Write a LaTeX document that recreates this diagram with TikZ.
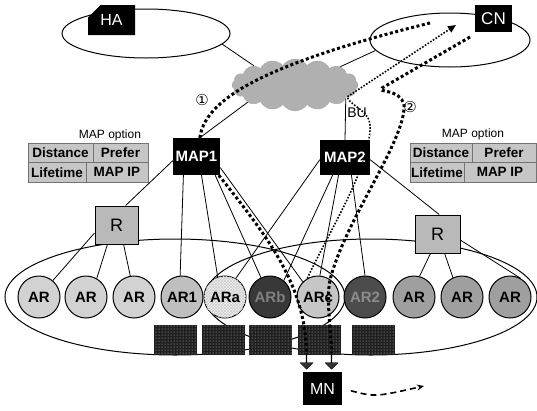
\documentclass[tikz,border=0pt]{standalone}
\usepackage{fontspec}
\setmainfont{Liberation Sans}
\newfontfamily\symf{DejaVu Sans}
\usetikzlibrary{shapes.geometric,shapes.symbols,shapes.misc,shapes.arrows,arrows.meta,backgrounds,patterns}
\begin{document}
\begin{tikzpicture}[x=1pt,y=-1pt,
  blk/.style={rectangle,fill=black,text=white,inner sep=0pt},
  arc/.style={circle,draw,line width=1pt,minimum size=42pt,inner sep=0pt,font=\fontsize{15}{15}\selectfont\bfseries},
  cellbox/.style={rectangle,fill=black!88,minimum width=43pt,minimum height=30pt,inner sep=0pt,
     postaction={pattern=dots,pattern color=white!80!black}},
  rbox/.style={rectangle,draw,line width=1pt,fill=gray!55,minimum height=38pt,inner sep=0pt,font=\fontsize{18}{18}\selectfont},
  opt/.style={rectangle,draw=black!55,fill=gray!45,minimum height=19.5pt,inner sep=0pt,font=\fontsize{13.5}{13.5}\selectfont\bfseries},
  dom/.style={ellipse,draw,line width=1pt,inner sep=0pt},
  conn/.style={line width=0.8pt},
  thickdot/.style={line width=3pt,dash pattern=on 3pt off 2.5pt},
  thindot/.style={line width=1.6pt,dash pattern=on 1.6pt off 1.6pt},
  optlabel/.style={font=\fontsize{12}{12}\selectfont},
  circnum/.style={font=\symf\fontsize{15}{15}\selectfont}
]
\useasboundingbox (0,0) rectangle (537,410);

% ---------- main nodes ----------
\node[blk,chamfered rectangle,chamfered rectangle corners=north west,chamfered rectangle xsep=7pt,chamfered rectangle ysep=7pt,
      minimum width=47pt,minimum height=30pt,font=\fontsize{16}{16}\selectfont] (HA) at (111.5,20) {HA};
\node[blk,minimum width=37pt,minimum height=27pt,font=\fontsize{17}{17}\selectfont] (CN) at (493.5,18.5) {CN};
\node[blk,minimum width=47pt,minimum height=37pt,font=\fontsize{15}{15}\selectfont\bfseries] (MAP1) at (196.5,156.5) {MAP1};
\node[blk,minimum width=50pt,minimum height=35pt,font=\fontsize{15}{15}\selectfont\bfseries] (MAP2) at (345,157.5) {MAP2};
\node[blk,minimum width=39pt,minimum height=33pt,font=\fontsize{16}{16}\selectfont] (MN) at (322.5,388.5) {MN};

\node[rbox,minimum width=43pt] (Rl) at (116.5,225) {R};
\node[rbox,minimum width=45pt] (Rr) at (437.5,234) {R};

% access routers
\node[arc,fill=gray!35] (c1) at (39,297) {AR};
\node[arc,fill=gray!35] (c2) at (86,297) {AR};
\node[arc,fill=gray!35] (c3) at (134,297) {AR};
\node[arc,fill=gray!50] (c4) at (182,297) {AR1};
\node[arc,fill=gray!12,postaction={pattern=crosshatch,pattern color=gray!40}] (c5) at (225,297) {ARa};
\node[arc,fill=black!78,text=black!50] (c6) at (270,297) {ARb};
\node[arc,fill=gray!45] (c7) at (318,297) {ARc};
\node[arc,fill=black!70,text=black!45] (c8) at (365,297) {AR2};
\node[arc,fill=gray!75] (c9) at (414,297) {AR};
\node[arc,fill=gray!75] (c10) at (462,297) {AR};
\node[arc,fill=gray!75] (c11) at (510,297) {AR};

% cells
\node[cellbox] (s1) at (175.5,340) {};
\node[cellbox] (s2) at (223.5,340) {};
\node[cellbox] (s3) at (270.5,340) {};
\node[cellbox] (s4) at (319,340) {};
\node[cellbox] (s5) at (373,340) {};

% block arrows
\node[single arrow,shape border rotate=270,fill=black!80,draw=black,minimum height=16pt,minimum width=13pt,
      single arrow head extend=3pt,inner sep=0pt] (arrL) at (306.5,361) {};
\node[single arrow,shape border rotate=270,fill=black!80,draw=black,minimum height=16pt,minimum width=13pt,
      single arrow head extend=3pt,inner sep=0pt] (arrR) at (331.5,361) {};

% MAP option tables
\node[optlabel] (optl) at (110,135) {MAP option};
\node[opt,minimum width=65pt] (ld) at (60.5,152.75) {Distance};
\node[opt,minimum width=55pt] (lp) at (120.5,152.75) {Prefer};
\node[opt,minimum width=58pt] (ll) at (57,172.25) {Lifetime};
\node[opt,minimum width=62pt] (lm) at (117,172.25) {MAP IP};

\node[optlabel] (optr) at (473,134) {MAP option};
\node[opt,minimum width=62pt] (rd) at (441,152.75) {Distance};
\node[opt,minimum width=64pt] (rp) at (504,152.75) {Prefer};
\node[opt,minimum width=54pt] (rl) at (437,172.25) {Lifetime};
\node[opt,minimum width=72pt] (rm) at (500,172.25) {MAP IP};

% labels
\node[circnum] (n1) at (202,100) {①};
\node[circnum] (n2) at (410,107) {②};
\node[font=\fontsize{14}{14}\selectfont] (bu) at (357,113) {BU};

% ---------- background ----------
\begin{scope}[on background layer]
  \node[dom,minimum width=168pt,minimum height=49pt] (HAell) at (146,33.5) {};
  \node[dom,minimum width=160pt,minimum height=54pt] (CNell) at (450,40) {};
  \node[cloud,cloud puffs=16,cloud puff arc=115,aspect=2.5,fill=gray!62,draw=gray!70,
        minimum width=126pt,minimum height=52pt,inner sep=0pt] (cloud) at (295,85) {};
  \node[dom,minimum width=340pt,minimum height=116pt] (domA) at (175,297) {};
  \node[dom,minimum width=332pt,minimum height=116pt] (domB) at (371,297) {};

  \draw[conn] (HAell.-8) -- (cloud.155);
  \draw[conn] (CNell.188) -- (cloud.22);
  \draw[conn] (cloud.200) -- (MAP1.80);
  \draw[conn] (cloud.-15) -- (MAP2.north);

  \draw[conn] (MAP1.190) -- (Rl.65);
  \draw[conn] (MAP1.235) -- (c4.95);
  \draw[conn] (MAP1.-75) -- (c5.110);
  \draw[conn] (MAP1.-45) -- (c6.115);
  \draw[conn] (MAP1.-25) -- (c7.135);

  \draw[conn] (MAP2.185) -- (c5.60);
  \draw[conn] (MAP2.235) -- (c6.50);
  \draw[conn] (MAP2.250) -- (c7.85);
  \draw[conn] (MAP2.-70) -- (c8.north);
  \draw[conn] (MAP2.-5) -- (Rr.85);

  \draw[conn] (Rl.200) -- (c1.50);
  \draw[conn] (Rl.245) -- (c2.60);
  \draw[conn] (Rl.290) -- (c3.100);
  \draw[conn] (Rr.250) -- (c9.75);
  \draw[conn] (Rr.290) -- (c10.115);
  \draw[conn] (Rr.-15) -- (c11.60);
\end{scope}

% ---------- signalling paths ----------
\coordinate (p1end) at (430,23);
\coordinate (p2start) at (470,37);
\coordinate (buend) at (456,25);
\coordinate (mnend) at (424,386);

\draw[thickdot] (MAP1.80) .. controls (205,100) and (260,65) .. (p1end);
\draw[thickdot] (MAP1.-40) .. controls (270,240) and (305,285) .. (arrL.tail);
\draw[thickdot] (p2start) -- (382,88) .. controls (376,93) and (400,88) .. (404,105)
   .. controls (406,140) and (345,220) .. (330,280) .. controls (326,300) and (331,330) .. (arrR.tail);
\draw[thindot,-{Triangle[length=8pt,width=7pt]}] (c7.120) .. controls (330,230) and (368,170) .. (370,130)
   .. controls (372,110) and (352,108) .. (347,97) -- (buend);

\draw[line width=1.6pt,dash pattern=on 6pt off 4pt,-{Stealth[length=7pt,width=6pt]},shorten <=9pt]
   (MN.east) .. controls (375,397) .. (mnend);
\end{tikzpicture}
\end{document}
